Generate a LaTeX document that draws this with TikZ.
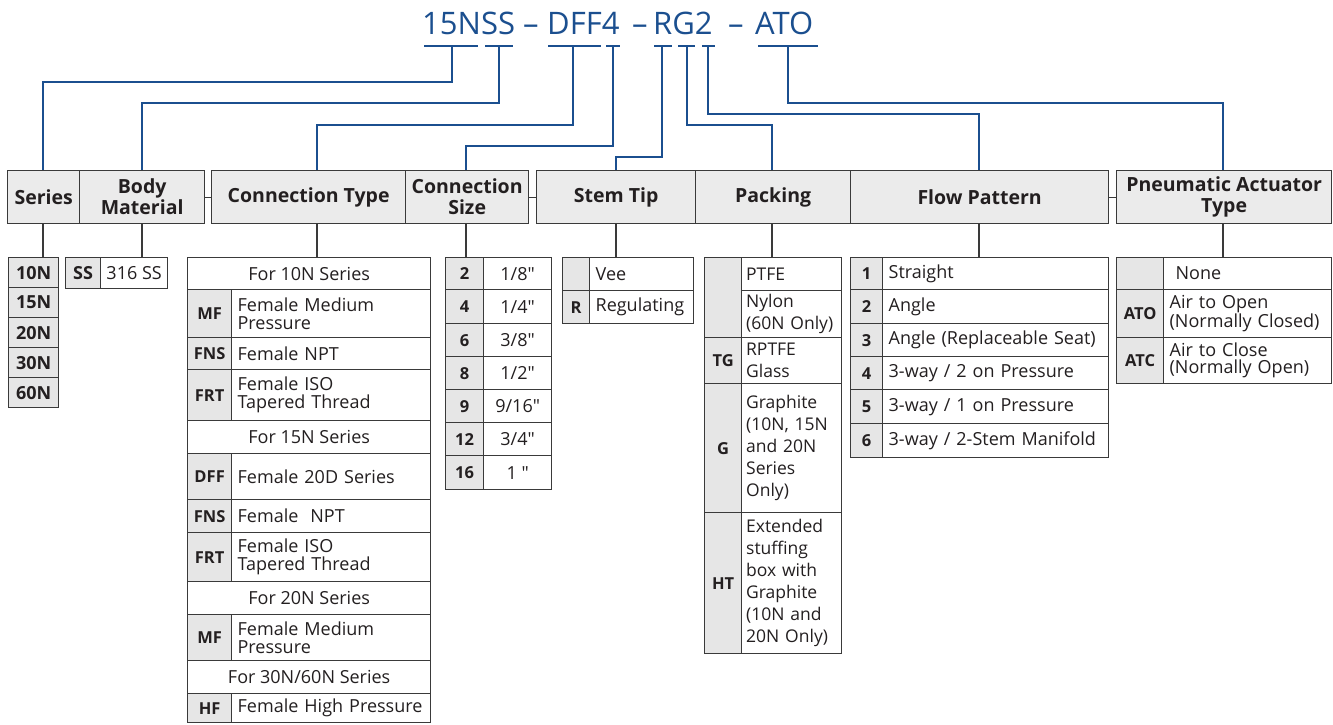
\documentclass[tikz,border=0pt]{standalone}
\usepackage{fontspec}
\setmainfont{Open Sans}
\newfontfamily\plainfont[Ligatures=TeXOff]{Open Sans}
\usetikzlibrary{calc}
\definecolor{dblue}{HTML}{1B4F8F}
\definecolor{hgray}{HTML}{EBEBEB}
\definecolor{cgray}{HTML}{E6E6E6}
\definecolor{bline}{HTML}{3A3A3A}
\definecolor{ink}{HTML}{231F20}
\tikzset{
 cellbase/.style={draw=bline, line width=1.3pt, inner sep=0pt, anchor=north west, text=ink},
 headcell/.style={cellbase, fill=hgray, font=\fontsize{19.5}{21}\selectfont\bfseries, align=center},
 codecell/.style={cellbase, fill=cgray, font=\fontsize{16.5}{18}\selectfont\bfseries, align=center},
 sercell/.style={codecell, font=\fontsize{18}{18}\selectfont\bfseries},
 desccell/.style={cellbase, fill=white, font=\fontsize{18}{18}\selectfont, align=left, inner xsep=6pt},
 notecell/.style={cellbase, fill=white, font=\fontsize{18}{18}\selectfont, align=center},
 sizecell/.style={notecell, font=\plainfont\fontsize{18}{18}\selectfont},
 blueline/.style={draw=dblue, line width=2.2pt},
 dropline/.style={draw=bline, line width=1.2pt},
 titletext/.style={text=dblue, font=\fontsize{31}{34}\selectfont, inner sep=0pt, anchor=base west},
}
\newcommand\Cell[7]{%
 \pgfmathsetmacro\cw{#5-#3}\pgfmathsetmacro\ch{#6-#4}%
 \node[#1, minimum width=\cw pt, minimum height=\ch pt] (#2) at (#3,#4) {#7};}
\newcommand\Desc[7][18]{%
 \pgfmathsetmacro\cw{#5-#3}\pgfmathsetmacro\ch{#6-#4}\pgfmathsetmacro\tw{#5-#3-12}%
 \node[desccell, font=\fontsize{18}{#1}\selectfont, minimum width=\cw pt, minimum height=\ch pt, text width=\tw pt] (#2) at (#3,#4) {#7};}
\newcommand\PDesc[6]{%
 \pgfmathsetmacro\cw{#4-#2}\pgfmathsetmacro\ch{#5-#3}\pgfmathsetmacro\tw{#4-#2-9}%
 \node[desccell, inner xsep=4.5pt, font=\fontsize{17.5}{22}\selectfont, minimum width=\cw pt, minimum height=\ch pt, text width=\tw pt] (#1) at (#2,#3) {#6};}
\begin{document}
\begin{tikzpicture}[x=1pt,y=-1pt]
\useasboundingbox (0,0) rectangle (1333,725);
% ---------- title ----------
\node[titletext] (t1) at (422,35) {15NSS};
\node[titletext] (d1) at (523,35) {–};
\node[titletext] (t2) at (547,35) {DFF4};
\node[titletext] (d2) at (632,35) {–};
\node[titletext] (t3) at (653,35) {RG2};
\node[titletext] (d3) at (728,35) {–};
\node[titletext] (t4) at (755,35) {ATO};
% underlines
\foreach \a/\b/\n in {424/478/1, 485/513/2, 548/601/3, 606/620/4, 654/672/5, 678/695/6, 702/715/7, 758/818/8}{
  \coordinate (ul\n) at (\a,46); \coordinate (ur\n) at (\b,46);
  \draw[blueline] (ul\n) -- (ur\n);
}
\coordinate (u1) at (452,46);
\coordinate (u2) at (499,46);
\coordinate (u3) at (573,46);
\coordinate (u4) at (613,46);
\coordinate (u5) at (662,46);
\coordinate (u6) at (687,46);
\coordinate (u7) at (708,46);
\coordinate (u8) at (788,46);
% ---------- header ----------
\Cell{headcell}{hSer}{7}{170}{79}{223}{Series}
\Cell{headcell}{hBody}{79}{170}{204}{223}{Body\\Material}
\Cell{headcell}{hCT}{211}{170}{405}{223}{Connection Type}
\Cell{headcell}{hCS}{405}{170}{528}{223}{Connection\\Size}
\Cell{headcell}{hST}{536}{170}{695}{223}{Stem Tip}
\Cell{headcell}{hPk}{695}{170}{850}{223}{Packing}
\Cell{headcell}{hFP}{850}{170}{1108}{223}{Flow Pattern}
\Cell{headcell}{hPA}{1116}{170}{1331}{223}{Pneumatic Actuator\\Type}
\draw[dropline] (hBody.east) -- (hCT.west);
\draw[dropline] (hCS.east) -- (hST.west);
\draw[dropline] (hFP.east) -- (hPA.west);
% header attach points
\coordinate (aSer) at (43,170);
\coordinate (aBody) at (142,170);
\coordinate (aCT) at (317,170);
\coordinate (aCS) at (466,170);
\coordinate (aST) at (616,170);
\coordinate (aPk) at (772,170);
\coordinate (aFP) at (979,170);
\coordinate (aPA) at (1223,170);
% blue connectors
\draw[blueline] (u1) -- ++(0,36) -| (aSer);
\draw[blueline] (u2) -- ++(0,57) -| (aBody);
\draw[blueline] (u3) -- ++(0,79) -| (aCT);
\draw[blueline] (u4) -- ++(0,100) -| (aCS);
\draw[blueline] (u5) -- ++(0,111) -| (aST);
\draw[blueline] (u6) -- ++(0,79) -| (aPk);
\draw[blueline] (u7) -- ++(0,68) -| (aFP);
\draw[blueline] (u8) -- ++(0,57) -| (aPA);
% ---------- Series ----------
\Cell{sercell}{s10}{8}{257}{58}{287}{10N}
\Cell{sercell}{s15}{8}{287}{58}{317}{15N}
\Cell{sercell}{s20}{8}{317}{58}{347}{20N}
\Cell{sercell}{s30}{8}{347}{58}{377}{30N}
\Cell{sercell}{s60}{8}{377}{58}{407}{60N}
% ---------- Body material ----------
\Cell{sercell}{bmC}{65}{257}{100}{288}{SS}
\Cell{notecell}{bmD}{100}{257}{167}{288}{316 SS}
% ---------- Connection type ----------
\Cell{notecell}{ct10}{187}{257}{430}{289}{For 10N Series}
\Cell{codecell}{ctA1}{187}{289}{231}{337}{MF}
\Desc{ctA1d}{231}{289}{430}{337}{Female Medium\\Pressure}
\Cell{codecell}{ctA2}{187}{337}{231}{369}{FNS}
\Desc{ctA2d}{231}{337}{430}{369}{Female NPT}
\Cell{codecell}{ctA3}{187}{369}{231}{420}{FRT}
\Desc{ctA3d}{231}{369}{430}{420}{Female ISO\\Tapered Thread}
\Cell{notecell}{ct15}{187}{420}{430}{453}{For 15N Series}
\Cell{codecell}{ctB1}{187}{453}{231}{499}{DFF}
\Desc{ctB1d}{231}{453}{430}{499}{Female 20D Series}
\Cell{codecell}{ctB2}{187}{499}{231}{532}{FNS}
\Desc{ctB2d}{231}{499}{430}{532}{Female\ \ NPT}
\Cell{codecell}{ctB3}{187}{532}{231}{581}{FRT}
\Desc{ctB3d}{231}{532}{430}{581}{Female ISO\\Tapered Thread}
\Cell{notecell}{ct20}{187}{581}{430}{614}{For 20N Series}
\Cell{codecell}{ctC1}{187}{614}{231}{660}{MF}
\Desc{ctC1d}{231}{614}{430}{660}{Female Medium\\Pressure}
\Cell{notecell}{ct30}{187}{660}{430}{693}{For 30N/60N Series}
\Cell{codecell}{ctD1}{187}{693}{231}{722}{HF}
\Desc{ctD1d}{231}{693}{430}{722}{Female High Pressure}
% ---------- Connection size ----------
\foreach \c/\s/\ya/\yb [count=\i] in {2/1\slash 8"/257/289, 4/1\slash 4"/289/323, 6/3\slash 8"/323/356, 8/1\slash 2"/356/389, 9/9\slash 16"/389/422, 12/3\slash 4"/422/455, 16/1 "/455/489}{
  \Cell{codecell}{cs\i}{445}{\ya}{483}{\yb}{\c}
  \Cell{sizecell}{cs\i d}{483}{\ya}{551}{\yb}{\s}
}
% ---------- Stem tip ----------
\Cell{codecell}{stV}{562}{257}{589}{290}{}
\Desc{stVd}{589}{257}{693}{290}{Vee}
\Cell{codecell}{stR}{562}{290}{589}{323}{R}
\Desc{stRd}{589}{290}{693}{323}{Regulating}
% ---------- Packing ----------
\Cell{codecell}{pk0}{704}{257}{741}{337}{}
\PDesc{pk0a}{741}{257}{841}{290}{PTFE}
\PDesc{pk0b}{741}{290}{841}{337}{Nylon\\(60N~Only)}
\Cell{codecell}{pkTG}{704}{337}{741}{383}{TG}
\PDesc{pkTGd}{741}{337}{841}{383}{RPTFE\\Glass}
\Cell{codecell}{pkG}{704}{383}{741}{512}{G}
\PDesc{pkGd}{741}{383}{841}{512}{Graphite\\(10N, 15N\\and 20N\\Series\\Only)}
\Cell{codecell}{pkHT}{704}{512}{741}{653}{HT}
\PDesc{pkHTd}{741}{512}{841}{653}{Extended\\stuffing\\box with\\Graphite\\(10N and\\20N Only)}
% ---------- Flow pattern ----------
\foreach \c/\s/\ya/\yb in {1/Straight/257/289, 2/Angle/289/323, 3/Angle (Replaceable Seat)/323/356, 4/3-way \slash\ 2 on Pressure/356/389, 5/3-way \slash\ 1 on Pressure/389/423, 6/3-way \slash\ 2-Stem Manifold/423/457}{
  \Cell{codecell}{fp\c}{850}{\ya}{882}{\yb}{\c}
  \Desc{fp\c d}{882}{\ya}{1108}{\yb}{\s}
}
% ---------- Pneumatic actuator ----------
\Cell{codecell}{paN}{1116}{257}{1163}{289}{}
\Desc{paNd}{1163}{257}{1331}{289}{\ None}
\Cell{codecell}{paO}{1116}{289}{1163}{337}{ATO}
\Desc[17]{paOd}{1163}{289}{1331}{337}{Air to Open\\(Normally Closed)}
\Cell{codecell}{paC}{1116}{337}{1163}{383}{ATC}
\Desc[17]{paCd}{1163}{337}{1331}{383}{Air to Close\\(Normally Open)}
% ---------- drop lines ----------
\draw[dropline] (hSer.south -| aSer) -- (s10.north -| aSer);
\draw[dropline] (hBody.south -| aBody) -- (bmD.north -| aBody);
\draw[dropline] (hCT.south -| aCT) -- (ct10.north -| aCT);
\draw[dropline] (hCS.south -| aCS) -- (cs1d.north -| aCS);
\draw[dropline] (hST.south -| aST) -- (stVd.north -| aST);
\draw[dropline] (hPk.south -| aPk) -- (pk0a.north -| aPk);
\draw[dropline] (hFP.south -| aFP) -- (fp1d.north -| aFP);
\draw[dropline] (hPA.south -| aPA) -- (paNd.north -| aPA);
\end{tikzpicture}
\end{document}
